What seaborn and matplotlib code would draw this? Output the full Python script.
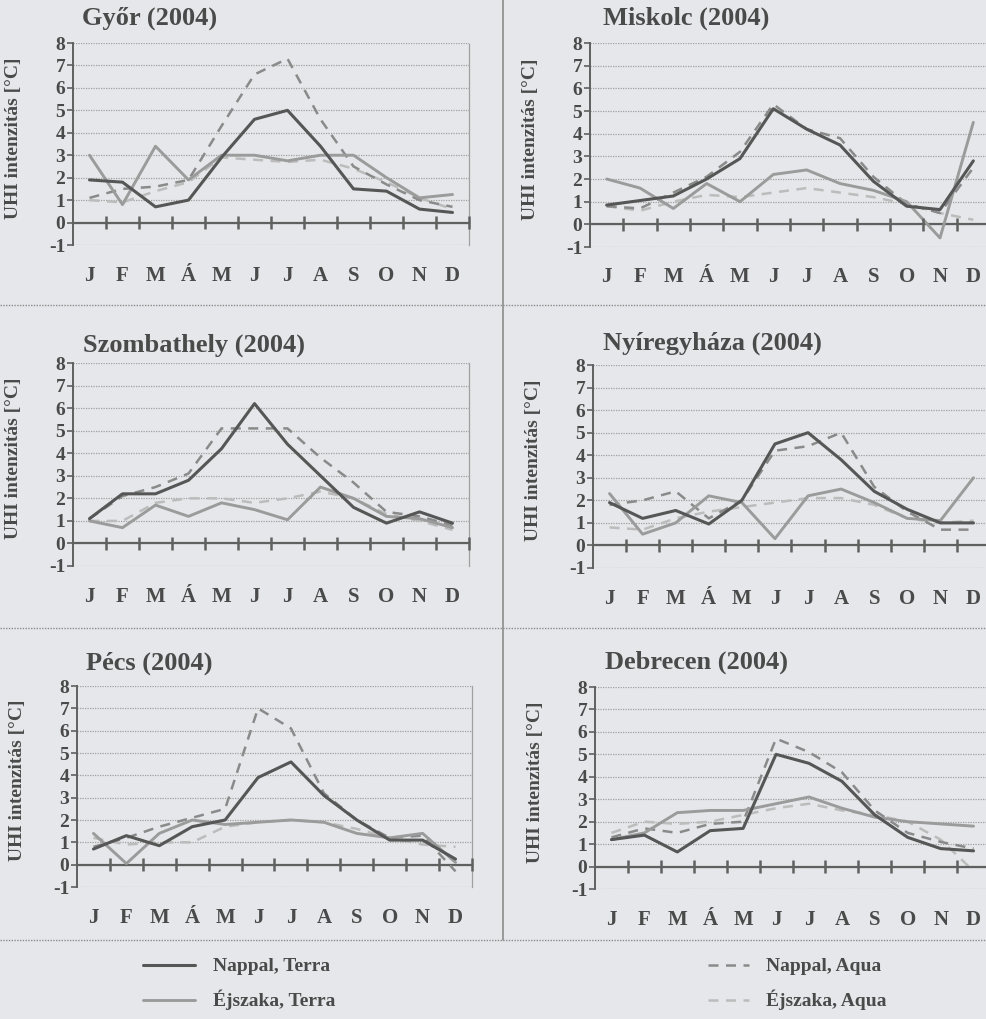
import matplotlib
matplotlib.use("Agg")
import matplotlib.pyplot as plt
from matplotlib.lines import Line2D
import pandas as pd
import seaborn as sns

# ---- data: monthly UHI intensity [°C], 2004 ----
months = ["J", "F", "M", "Á", "M", "J", "J", "A", "S", "O", "N", "D"]
series_names = ["Nappal, Terra", "Éjszaka, Terra", "Nappal, Aqua", "Éjszaka, Aqua"]

gyor_nappal_terra = [1.9, 1.8, 0.7, 1.0, 2.9, 4.6, 5.0, 3.4, 1.5, 1.4, 0.6, 0.45]
gyor_ejszaka_terra = [3.0, 0.8, 3.4, 1.9, 3.0, 3.0, 2.75, 3.0, 3.0, 2.0, 1.1, 1.25]
gyor_nappal_aqua = [1.1, 1.5, 1.6, 1.9, 4.3, 6.6, 7.3, 4.6, 2.5, 1.7, 1.0, 0.7]
gyor_ejszaka_aqua = [1.0, 0.9, 1.4, 1.8, 2.9, 2.8, 2.7, 2.8, 2.4, 1.8, 1.1, 0.6]

miskolc_nappal_terra = [0.85, 1.05, 1.25, 2.0, 2.9, 5.1, 4.2, 3.5, 1.9, 0.8, 0.65, 2.8]
miskolc_ejszaka_terra = [2.0, 1.6, 0.7, 1.8, 1.0, 2.2, 2.4, 1.8, 1.5, 1.0, -0.6, 4.5]
miskolc_nappal_aqua = [0.8, 0.7, 1.4, 2.1, 3.2, 5.3, 4.2, 3.8, 2.1, 0.9, 0.5, 2.5]
miskolc_ejszaka_aqua = [0.8, 0.6, 1.0, 1.3, 1.2, 1.4, 1.6, 1.4, 1.2, 0.9, 0.5, 0.2]

szombathely_nappal_terra = [1.1, 2.2, 2.2, 2.8, 4.2, 6.2, 4.4, 3.0, 1.6, 0.9, 1.4, 0.9]
szombathely_ejszaka_terra = [1.0, 0.7, 1.7, 1.2, 1.8, 1.5, 1.05, 2.5, 2.0, 1.2, 1.1, 0.7]
szombathely_nappal_aqua = [1.1, 2.1, 2.5, 3.1, 5.1, 5.1, 5.1, 3.8, 2.7, 1.4, 1.2, 0.8]
szombathely_ejszaka_aqua = [1.0, 1.0, 1.8, 2.0, 2.0, 1.8, 2.0, 2.3, 2.0, 1.3, 1.0, 0.6]

nyiregyhaza_nappal_terra = [1.9, 1.2, 1.55, 0.95, 2.0, 4.5, 5.0, 3.8, 2.4, 1.6, 1.0, 1.0]
nyiregyhaza_ejszaka_terra = [2.3, 0.5, 1.0, 2.2, 1.9, 0.3, 2.2, 2.5, 1.9, 1.2, 1.1, 3.0]
nyiregyhaza_nappal_aqua = [1.8, 2.0, 2.4, 1.2, 2.0, 4.2, 4.4, 5.0, 2.6, 1.5, 0.7, 0.7]
nyiregyhaza_ejszaka_aqua = [0.8, 0.7, 1.2, 1.5, 1.7, 1.9, 2.1, 2.1, 1.8, 1.2, 1.0, 1.1]

pecs_nappal_terra = [0.7, 1.3, 0.85, 1.7, 2.0, 3.9, 4.6, 3.1, 2.0, 1.1, 1.1, 0.25]
pecs_ejszaka_terra = [1.4, 0.05, 1.4, 2.0, 1.8, 1.9, 2.0, 1.9, 1.4, 1.2, 1.4, 0.1]
pecs_nappal_aqua = [0.8, 1.2, 1.7, 2.1, 2.5, 7.0, 6.1, 3.2, 2.0, 1.2, 1.3, -0.3]
pecs_ejszaka_aqua = [1.2, 0.9, 1.0, 1.0, 1.7, 1.9, 2.0, 1.9, 1.6, 1.2, 0.9, 0.8]

debrecen_nappal_terra = [1.2, 1.4, 0.65, 1.6, 1.7, 5.0, 4.6, 3.8, 2.3, 1.3, 0.8, 0.7]
debrecen_ejszaka_terra = [1.2, 1.5, 2.4, 2.5, 2.5, 2.8, 3.1, 2.6, 2.2, 2.0, 1.9, 1.8]
debrecen_nappal_aqua = [1.3, 1.7, 1.5, 1.9, 2.0, 5.7, 5.1, 4.2, 2.5, 1.5, 1.1, 0.8]
debrecen_ejszaka_aqua = [1.5, 2.0, 1.9, 2.0, 2.3, 2.6, 2.8, 2.5, 2.3, 2.0, 1.2, -0.2]

cities = {
    "Győr (2004)": [gyor_nappal_terra, gyor_ejszaka_terra, gyor_nappal_aqua, gyor_ejszaka_aqua],
    "Miskolc (2004)": [miskolc_nappal_terra, miskolc_ejszaka_terra, miskolc_nappal_aqua, miskolc_ejszaka_aqua],
    "Szombathely (2004)": [szombathely_nappal_terra, szombathely_ejszaka_terra,
                           szombathely_nappal_aqua, szombathely_ejszaka_aqua],
    "Nyíregyháza (2004)": [nyiregyhaza_nappal_terra, nyiregyhaza_ejszaka_terra,
                           nyiregyhaza_nappal_aqua, nyiregyhaza_ejszaka_aqua],
    "Pécs (2004)": [pecs_nappal_terra, pecs_ejszaka_terra, pecs_nappal_aqua, pecs_ejszaka_aqua],
    "Debrecen (2004)": [debrecen_nappal_terra, debrecen_ejszaka_terra,
                        debrecen_nappal_aqua, debrecen_ejszaka_aqua],
}

rows = []
for city, series_list in cities.items():
    for name, values in zip(series_names, series_list):
        for i, v in enumerate(values):
            rows.append({"city": city, "series": name, "month": i, "value": v})
df = pd.DataFrame(rows)

# ---- style ----
W, H, DPI = 987, 1019, 100
sns.set_theme(style="white")
plt.rcParams["font.family"] = ["Liberation Serif", "DejaVu Serif"]
plt.rcParams["font.weight"] = "bold"
plt.rcParams["axes.unicode_minus"] = False

BG = "#e6e7ea"
INK = "#4a4a4a"
AXIS = "#606060"
GRID = "#a0a0a0"

line_styles = {
    "Éjszaka, Aqua": dict(color="#bcbcbc", lw=1.8, ls=(0, (4, 3)), z=2),
    "Nappal, Aqua": dict(color="#8a8a8a", lw=1.8, ls=(0, (4, 3)), z=3),
    "Éjszaka, Terra": dict(color="#9b9b9b", lw=2.1, ls="-", z=4),
    "Nappal, Terra": dict(color="#565656", lw=2.2, ls="-", z=5),
}

fig = plt.figure(figsize=(W / DPI, H / DPI), dpi=DPI, facecolor=BG)


def axes_px(left, right, top, bottom):
    return fig.add_axes([left / W, 1 - bottom / H, (right - left) / W, (bottom - top) / H])


# panel rectangles (left, right, top, bottom) in pixels and title anchors
panels = [
    ("Győr (2004)", (73, 469, 43, 245), (82, 18)),
    ("Miskolc (2004)", (590, 990, 43, 247), (603, 18)),
    ("Szombathely (2004)", (73, 469, 363, 566), (83, 345)),
    ("Nyíregyháza (2004)", (593, 990, 365, 568), (603, 343)),
    ("Pécs (2004)", (77, 472, 686, 887), (86, 663)),
    ("Debrecen (2004)", (595, 990, 687, 889), (605, 662)),
]

month_pos = list(range(len(months)))
month_bounds = [i + 0.5 for i in month_pos]

for city, rect, title_xy in panels:
    ax = axes_px(*rect)
    ax.set_facecolor("none")
    sub = df[df["city"] == city]
    for name in ["Éjszaka, Aqua", "Nappal, Aqua", "Éjszaka, Terra", "Nappal, Terra"]:
        st = line_styles[name]
        sns.lineplot(data=sub[sub["series"] == name], x="month", y="value", ax=ax,
                     color=st["color"], linewidth=st["lw"], linestyle=st["ls"],
                     errorbar=None, legend=False, zorder=st["z"])

    ax.set_xlim(-0.5, 11.5)
    ax.set_ylim(-1, 8)
    ax.set_xlabel("")
    ax.set_ylabel("UHI intenzitás [°C]", fontsize=14, fontweight="bold", color=INK)
    ax.yaxis.set_label_coords(-51 / (rect[1] - rect[0]), 0.53)

    # y axis
    ax.set_yticks(range(-1, 9))
    ax.tick_params(axis="y", which="major", left=True, direction="out", length=4, width=1.2,
                   color=AXIS, pad=1.5, labelsize=14, labelcolor=INK)
    ax.yaxis.grid(True, linestyle=(0, (1, 1)), color=GRID, linewidth=0.9)
    ax.xaxis.grid(False)

    # x axis: spine on the zero line, month labels below the chart
    ax.spines["bottom"].set_position(("data", 0))
    ax.spines["bottom"].set_color(AXIS)
    ax.spines["bottom"].set_linewidth(1.6)
    ax.spines["left"].set_color(AXIS)
    ax.spines["left"].set_linewidth(1.4)
    ax.spines["top"].set_visible(False)
    ax.spines["right"].set_linestyle((0, (1, 1)))
    ax.spines["right"].set_color(GRID)
    ax.spines["right"].set_linewidth(0.9)

    ax.set_xticks(month_pos)
    ax.set_xticklabels(months)
    ax.tick_params(axis="x", which="major", bottom=True, length=0, pad=31,
                   labelsize=15, labelcolor=INK)
    # category boundary marks crossing the zero line
    for b in month_bounds:
        ax.plot([b, b], [-0.28, 0.28], color=AXIS, linewidth=1.8,
                solid_capstyle="butt", zorder=6, clip_on=False)
    for lab in ax.get_xticklabels() + ax.get_yticklabels():
        lab.set_fontweight("bold")

    fig.text(title_xy[0] / W, 1 - title_xy[1] / H, city, fontsize=19, fontweight="bold",
             color=INK, ha="left", va="center")

# panel separators
sep = "#8c8c8c"
fig.add_artist(Line2D([503 / W, 503 / W], [1, 1 - 940 / H], transform=fig.transFigure,
                      color=sep, lw=1.2))
for y in (305, 628, 940):
    fig.add_artist(Line2D([0, 1], [1 - y / H, 1 - y / H], transform=fig.transFigure,
                          color=sep, lw=1.0, linestyle=(0, (1, 1))))

# legend, two columns
def handle(name):
    st = line_styles[name]
    return Line2D([], [], color=st["color"], lw=st["lw"], linestyle=st["ls"])

leg_kw = dict(frameon=False, fontsize=14, labelcolor=INK, labelspacing=0.75,
              handletextpad=0.9, borderaxespad=0, loc="upper left")
leg1 = fig.legend([handle("Nappal, Terra"), handle("Éjszaka, Terra")],
                  ["Nappal, Terra", "Éjszaka, Terra"], handlelength=2.7,
                  bbox_to_anchor=(135 / W, 1 - 950 / H), **leg_kw)
leg2 = fig.legend([handle("Nappal, Aqua"), handle("Éjszaka, Aqua")],
                  ["Nappal, Aqua", "Éjszaka, Aqua"], handlelength=2.1,
                  bbox_to_anchor=(700 / W, 1 - 950 / H), **leg_kw)
for leg in (leg1, leg2):
    for t in leg.get_texts():
        t.set_fontweight("bold")

fig.savefig("out.png", dpi=DPI, facecolor=BG)
